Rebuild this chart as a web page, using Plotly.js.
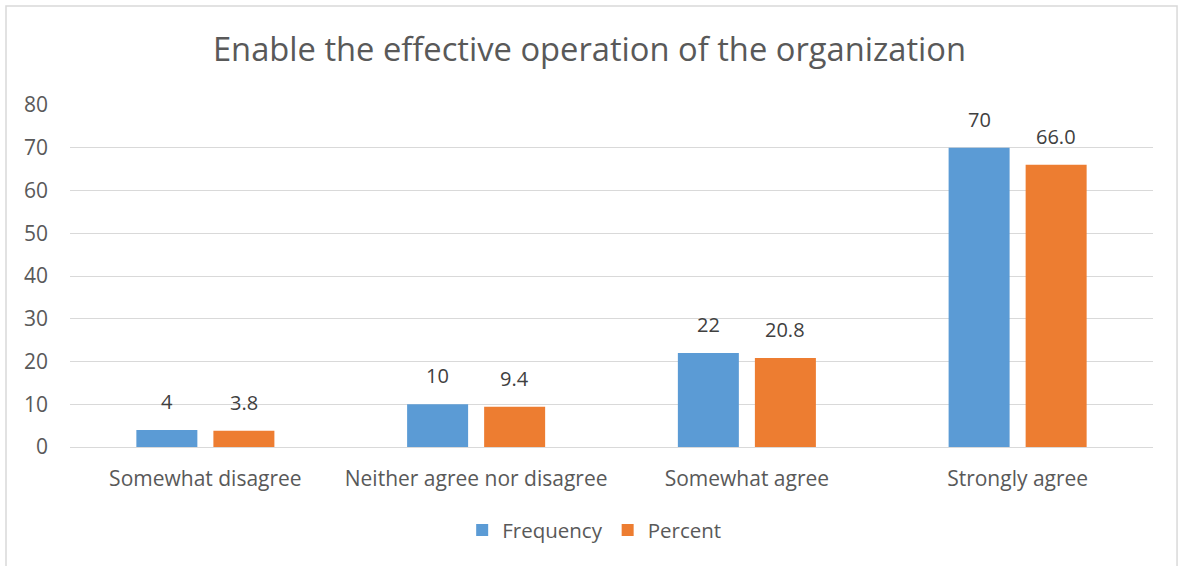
<!DOCTYPE html>
<html>
<head>
<meta charset="utf-8">
<script src="https://cdn.plot.ly/plotly-3.0.1.min.js"></script>
<style>html,body{margin:0;padding:0;background:#fff;}#chart{width:1179px;height:566px;}</style>
</head>
<body>
<div id="chart"></div>
<script>
const categories = ["Somewhat disagree", "Neither agree nor disagree", "Somewhat agree", "Strongly agree"];
const frequency = [4, 10, 22, 70];
const percent = [3.8, 9.4, 20.8, 66.0];
const frequencyLabels = ["4", "10", "22", "70"];
const percentLabels = ["3.8", "9.4", "20.8", "66.0"];
const yTicks = [0, 10, 20, 30, 40, 50, 60, 70, 80];

const FONT = "'Open Sans', 'Noto Sans', sans-serif";
const textColor = "#595959";
const labelColor = "#404040";

const traces = [
  {type: "bar", name: "Frequency", x: categories, y: frequency, marker: {color: "#5B9BD5"}},
  {type: "bar", name: "Percent", x: categories, y: percent, marker: {color: "#ED7D31"}}
];

// value labels placed above each bar via the axes' own scales
const annotations = [];
const seriesLabels = [[frequency, frequencyLabels, -38.5], [percent, percentLabels, 38.5]];
seriesLabels.forEach(([vals, labels, dx]) => {
  categories.forEach((c, i) => {
    annotations.push({x: c, y: vals[i], xref: "x", yref: "y", text: labels[i], showarrow: false,
      xshift: dx, yshift: 13, yanchor: "bottom", font: {family: FONT, size: 20, color: labelColor}});
  });
});

const layout = {
  width: 1179, height: 566,
  margin: {l: 70, r: 26, t: 105, b: 119},
  paper_bgcolor: "#fff", plot_bgcolor: "#fff",
  font: {family: FONT, color: textColor, size: 21},
  title: {text: "Enable the effective operation of the organization", font: {family: FONT, size: 32.7, color: textColor}, x: 0.5, xanchor: "center", y: 0.912, yanchor: "middle"},
  barmode: "group", bargap: 0.431, bargroupgap: 0.208,
  xaxis: {showgrid: false, showline: false, zeroline: false, ticks: "", tickfont: {size: 21, color: textColor}, ticklabelstandoff: 17},
  yaxis: {range: [0, 80], tickvals: yTicks, showgrid: true, gridcolor: "#d9d9d9", gridwidth: 1, zeroline: true, zerolinecolor: "#d9d9d9", zerolinewidth: 1, showline: false, ticks: "", tickfont: {size: 21, color: textColor}, ticklabelstandoff: 21},
  showlegend: true,
  legend: {orientation: "h", x: 0.484, xanchor: "center", y: -0.243, yanchor: "middle", font: {size: 20.5, color: textColor}, traceorder: "normal", itemwidth: 30},
  annotations: annotations,
  shapes: [{type: "rect", xref: "paper", yref: "paper", x0: -0.0591, x1: 1.0222, y0: -0.6, y1: 1.2895, line: {color: "#d9d9d9", width: 1.5}, fillcolor: "rgba(0,0,0,0)", layer: "below"}]
};

Plotly.newPlot("chart", traces, layout, {displayModeBar: false, staticPlot: true});
</script>
</body>
</html>
